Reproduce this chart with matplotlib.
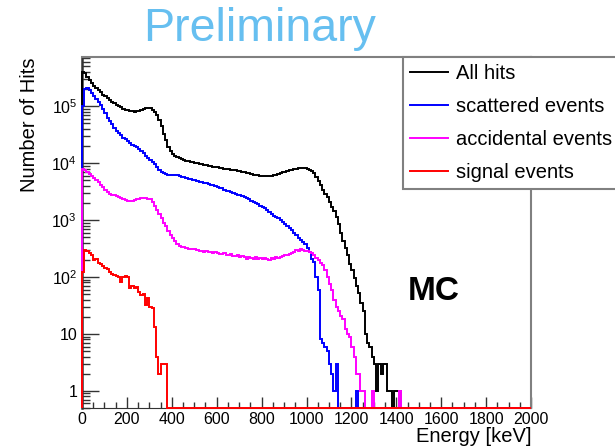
import numpy as np
import matplotlib
matplotlib.use("Agg")
import matplotlib.pyplot as plt
from matplotlib.ticker import FixedLocator, FixedFormatter, NullFormatter

plt.rcParams['font.family'] = ['Liberation Sans', 'DejaVu Sans']

# 10 keV bins, values listed from 0 keV; bins after the list are empty
bin_width = 10
e_max = 2000

all_hits = [4.0e5, 3.8e5, 3.3e5, 2.9e5, 2.6e5, 2.3e5, 2.1e5, 1.9e5, 1.75e5, 1.6e5,
            1.5e5, 1.4e5, 1.3e5, 1.2e5, 1.12e5, 1.05e5, 1.0e5, 9.5e4, 9.0e4, 8.7e4,
            8.4e4, 8.2e4, 8.1e4, 8.0e4, 8.1e4, 8.3e4, 8.6e4, 8.9e4, 9.1e4, 9.2e4,
            9.1e4, 8.7e4, 8.0e4, 7.0e4, 5.7e4, 4.4e4, 3.3e4, 2.5e4, 1.95e4, 1.6e4,
            1.45e4, 1.35e4, 1.28e4, 1.22e4, 1.18e4, 1.14e4, 1.11e4, 1.08e4, 1.06e4, 1.04e4,
            1.02e4, 1.0e4, 9.8e3, 9.6e3, 9.4e3, 9.2e3, 9.0e3, 8.8e3, 8.7e3, 8.5e3,
            8.4e3, 8.2e3, 8.1e3, 8.0e3, 7.9e3, 7.8e3, 7.7e3, 7.6e3, 7.5e3, 7.3e3,
            7.2e3, 7.0e3, 6.9e3, 6.7e3, 6.6e3, 6.4e3, 6.3e3, 6.2e3, 6.1e3, 6.0e3,
            5.9e3, 5.9e3, 5.9e3, 5.9e3, 6.0e3, 6.1e3, 6.3e3, 6.5e3, 6.7e3, 6.9e3,
            7.1e3, 7.3e3, 7.5e3, 7.7e3, 7.9e3, 8.0e3, 8.1e3, 8.2e3, 8.2e3, 8.1e3,
            7.9e3, 7.6e3, 7.2e3, 6.6e3, 5.8e3, 4.9e3, 4.1e3, 3.4e3, 2.9e3, 2.5e3,
            2.1e3, 1.7e3, 1.45e3, 1.15e3, 850, 600, 430, 320, 240, 170,
            130, 95, 70, 52, 35, 25, 10, 7, 6, 4,
            3, 1, 3, 2, 3, 3, 1, 1, 0, 1,
            1, 1]

scattered = [1.0e5, 2.0e5, 2.1e5, 1.9e5, 1.7e5, 1.5e5, 1.35e5, 1.2e5, 1.05e5, 9.0e4,
             7.5e4, 6.3e4, 5.5e4, 4.8e4, 4.2e4, 3.7e4, 3.4e4, 3.1e4, 2.8e4, 2.6e4,
             2.4e4, 2.25e4, 2.1e4, 2.0e4, 1.9e4, 1.75e4, 1.6e4, 1.5e4, 1.35e4, 1.25e4,
             1.15e4, 1.05e4, 9.5e3, 8.5e3, 7.6e3, 7.0e3, 6.7e3, 6.5e3, 6.3e3, 6.2e3,
             6.1e3, 6.2e3, 6.1e3, 6.0e3, 5.8e3, 5.6e3, 5.5e3, 5.3e3, 5.2e3, 5.1e3,
             5.0e3, 4.9e3, 4.7e3, 4.6e3, 4.5e3, 4.4e3, 4.3e3, 4.2e3, 4.1e3, 4.0e3,
             3.8e3, 3.7e3, 3.6e3, 3.4e3, 3.3e3, 3.2e3, 3.1e3, 3.0e3, 2.9e3, 2.8e3,
             2.7e3, 2.6e3, 2.5e3, 2.4e3, 2.3e3, 2.2e3, 2.1e3, 2.0e3, 1.9e3, 1.8e3,
             1.7e3, 1.62e3, 1.5e3, 1.4e3, 1.3e3, 1.2e3, 1.15e3, 1.08e3, 1.0e3, 920,
             850, 780, 720, 660, 600, 540, 490, 440, 410, 380,
             320, 270, 210, 180, 100, 60, 8, 7, 6, 5,
             3, 2, 1, 3, 0, 0, 0, 0, 0, 0,
             0, 0, 1]

accidental = [7.8e3, 7.5e3, 7.0e3, 6.5e3, 6.0e3, 5.5e3, 5.0e3, 4.6e3, 4.2e3, 3.8e3,
              3.4e3, 3.1e3, 2.9e3, 2.8e3, 2.7e3, 2.6e3, 2.55e3, 2.4e3, 2.3e3, 2.25e3,
              2.2e3, 2.2e3, 2.2e3, 2.25e3, 2.3e3, 2.35e3, 2.4e3, 2.4e3, 2.4e3, 2.35e3,
              2.3e3, 2.1e3, 1.8e3, 1.5e3, 1.3e3, 1.1e3, 900, 780, 650, 540,
              480, 420, 380, 350, 340, 330, 320, 315, 310, 310,
              305, 300, 290, 285, 280, 290, 275, 270, 265, 270,
              260, 255, 250, 260, 245, 240, 250, 235, 230, 240,
              220, 230, 225, 210, 225, 215, 205, 220, 210, 215,
              205, 215, 210, 200, 215, 205, 220, 215, 225, 230,
              240, 245, 250, 265, 280, 300, 290, 305, 300, 290,
              285, 275, 260, 240, 215, 195, 175, 160, 130, 100,
              75, 60, 40, 30, 25, 21, 18, 12, 10, 9,
              6, 4, 2, 2, 1, 1, 0, 0, 0, 1,
              0, 0, 0, 0, 0, 0, 0, 0, 0, 0,
              0, 1]

signal = [120, 300, 290, 260, 240, 200, 210, 175, 170, 155,
          145, 140, 120, 115, 110, 105, 100, 80, 100, 105,
          100, 65, 70, 65, 68, 55, 48, 50, 32, 42,
          30, 28, 13, 4, 2, 3, 3, 3]

labels = ["All hits", "scattered events", "accidental events", "signal events"]
colors = ["black", "#0000ff", "#ff00ff", "#ff0000"]

y_min, y_max = 0.5, 7.3e5

edges = np.arange(0, e_max + bin_width, bin_width)
nbins = len(edges) - 1


def padded(vals):
    out = np.zeros(nbins)
    out[:len(vals)] = vals
    # empty bins sit on the lower edge like in the original log plot
    out[out <= 0] = y_min
    return out


fig = plt.figure(figsize=(6.15, 4.47), dpi=100)
ax = fig.add_axes([82 / 615, 1 - 408 / 447, 449 / 615, 351 / 447])

for vals, lab, col in zip([all_hits, scattered, accidental, signal], labels, colors):
    ax.stairs(padded(vals), edges, baseline=y_min, color=col, lw=1.4, label=lab,
              zorder=3, clip_on=False)

ax.set_yscale('log')
ax.set_xlim(0, e_max)
ax.set_ylim(y_min, y_max)

ax.xaxis.set_major_locator(FixedLocator(np.arange(0, 2001, 200)))
ax.xaxis.set_minor_locator(FixedLocator(np.arange(0, 2001, 50)))
ax.yaxis.set_major_locator(FixedLocator([1, 10, 1e2, 1e3, 1e4, 1e5]))
ax.yaxis.set_major_formatter(FixedFormatter(
    ["1", "10", r"$\mathregular{10^{2}}$", r"$\mathregular{10^{3}}$",
     r"$\mathregular{10^{4}}$", r"$\mathregular{10^{5}}$"]))
minors = [m * 10.0 ** d for d in range(-1, 6) for m in range(2, 10)]
ax.yaxis.set_minor_locator(FixedLocator(minors))
ax.yaxis.set_minor_formatter(NullFormatter())

ax.tick_params(which='both', direction='in', colors='#333333', labelcolor='black',
               labelsize=11.5, top=False, right=False)
ax.tick_params(which='major', length=8, width=1)
ax.tick_params(which='minor', length=4, width=1)
ax.tick_params(axis='y', which='major', length=12)
ax.tick_params(axis='y', which='minor', length=6)
ax.tick_params(axis='x', pad=3)

for side in ['top', 'right']:
    ax.spines[side].set_color('#808080')
    ax.spines[side].set_linewidth(1.5)
ax.spines['left'].set_color('#333333')
ax.spines['left'].set_linewidth(1.8)
ax.spines['bottom'].set_color('#333333')
ax.spines['bottom'].set_zorder(1)

ax.set_xlabel("Energy [keV]", fontsize=14.5, loc='right', labelpad=0)
ax.set_ylabel("Number of Hits", fontsize=14.5, loc='top', labelpad=9)

ax.text(0.726, 0.333, "MC", transform=ax.transAxes, fontsize=24,
        fontweight='bold', ha='left', va='center')

fig.text(260 / 615, 1 - 29 / 447, "Preliminary", fontsize=33.5,
         color='#66bff0', ha='center', va='center')

leg = fig.legend(loc='upper left', bbox_to_anchor=(403 / 615, 1 - 57 / 447),
                 fontsize=14.5, frameon=True, fancybox=False, framealpha=1,
                 borderpad=0.35, handlelength=1.9, handletextpad=0.4,
                 labelspacing=0.70, borderaxespad=0)
leg.get_frame().set_edgecolor('#808080')
leg.get_frame().set_linewidth(1.5)
for line in leg.get_lines():
    line.set_linewidth(1.4)

fig.savefig("out.png", dpi=100)
